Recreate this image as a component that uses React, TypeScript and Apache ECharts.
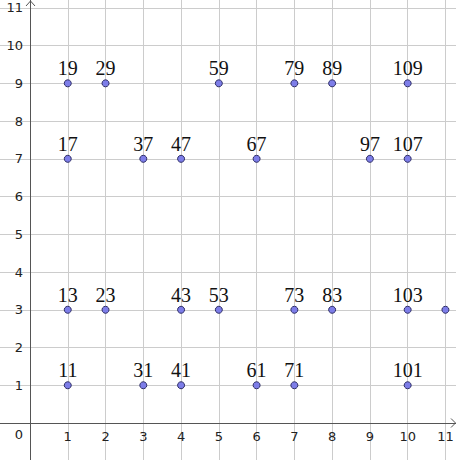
import React, { useEffect, useRef } from "react";
import * as echarts from "echarts";

// tens digit (x), units digit (y) and label of each prime
const xs = [1, 1, 1, 1, 2, 2, 3, 3, 4, 4, 4, 5, 5, 6, 6, 7, 7, 7, 8, 8, 9, 10, 10, 10, 10, 11];
const ys = [1, 3, 7, 9, 3, 9, 1, 7, 1, 3, 7, 3, 9, 1, 7, 1, 3, 9, 3, 9, 7, 1, 3, 7, 9, 3];
const labels = [
  "11", "13", "17", "19", "23", "29", "31", "37", "41", "43", "47", "53", "59",
  "61", "67", "71", "73", "79", "83", "89", "97", "101", "103", "107", "109", "",
];
const xTicks = [1, 2, 3, 4, 5, 6, 7, 8, 9, 10, 11];
const yTicks = [1, 2, 3, 4, 5, 6, 7, 8, 9, 10, 11];

export default function App() {
  const ref = useRef<HTMLDivElement>(null);
  useEffect(() => {
    if (!ref.current) return;
    const chart = echarts.init(ref.current, undefined, { renderer: "svg" });
    const axisCommon = (ticks: number[], offset: number) => ({
      type: "value",
      min: -1,
      max: 12,
      interval: 1,
      offset,
      axisLine: { show: true, onZero: false, lineStyle: { color: "#555555", width: 1 } },
      axisTick: { show: false },
      splitLine: { show: true, lineStyle: { color: "#cccccc", width: 1 } },
      axisLabel: {
        color: "#222222",
        fontFamily: "DejaVu Sans",
        fontSize: 13,
        margin: 7,
        formatter: (v: number) => (ticks.indexOf(v) >= 0 ? String(v) : ""),
      },
    });
    chart.setOption({
      animation: false,
      backgroundColor: "#ffffff",
      grid: {
        left: -7.77,
        right: -27.2,
        top: -29.9,
        bottom: -0.74,
        containLabel: false,
        outerBoundsMode: "none",
      },
      xAxis: axisCommon(xTicks, -37.74),
      yAxis: axisCommon(yTicks, -37.77),
      graphic: [
        {
          type: "polyline",
          shape: { points: [[26, 6], [30.5, 1], [35, 6]] },
          style: { stroke: "#555555", lineWidth: 1, fill: null },
          z: 100,
        },
        {
          type: "polyline",
          shape: { points: [[451, 418.5], [455.5, 423], [451, 427.5]] },
          style: { stroke: "#555555", lineWidth: 1, fill: null },
          z: 100,
        },
        {
          type: "text",
          x: 19,
          y: 434,
          style: {
            text: "0",
            fill: "#222222",
            font: "13px 'DejaVu Sans'",
            align: "center",
            verticalAlign: "middle",
          },
        },
      ],
      series: [
        {
          type: "scatter",
          data: xs.map((x, i) => [x, ys[i]]),
          symbolSize: 7,
          itemStyle: { color: "#7d7de8", borderColor: "#2e2e66", borderWidth: 1, opacity: 1 },
          label: {
            show: true,
            position: "top",
            distance: 1,
            color: "#111111",
            fontFamily: "Liberation Serif",
            fontSize: 20,
            formatter: (p: any) => labels[p.dataIndex],
          },
          z: 10,
        },
      ],
    });
    return () => chart.dispose();
  }, []);
  return (
    <div
      ref={ref}
      style={{ position: "absolute", left: 0, top: 0, width: 456, height: 460 }}
    />
  );
}
